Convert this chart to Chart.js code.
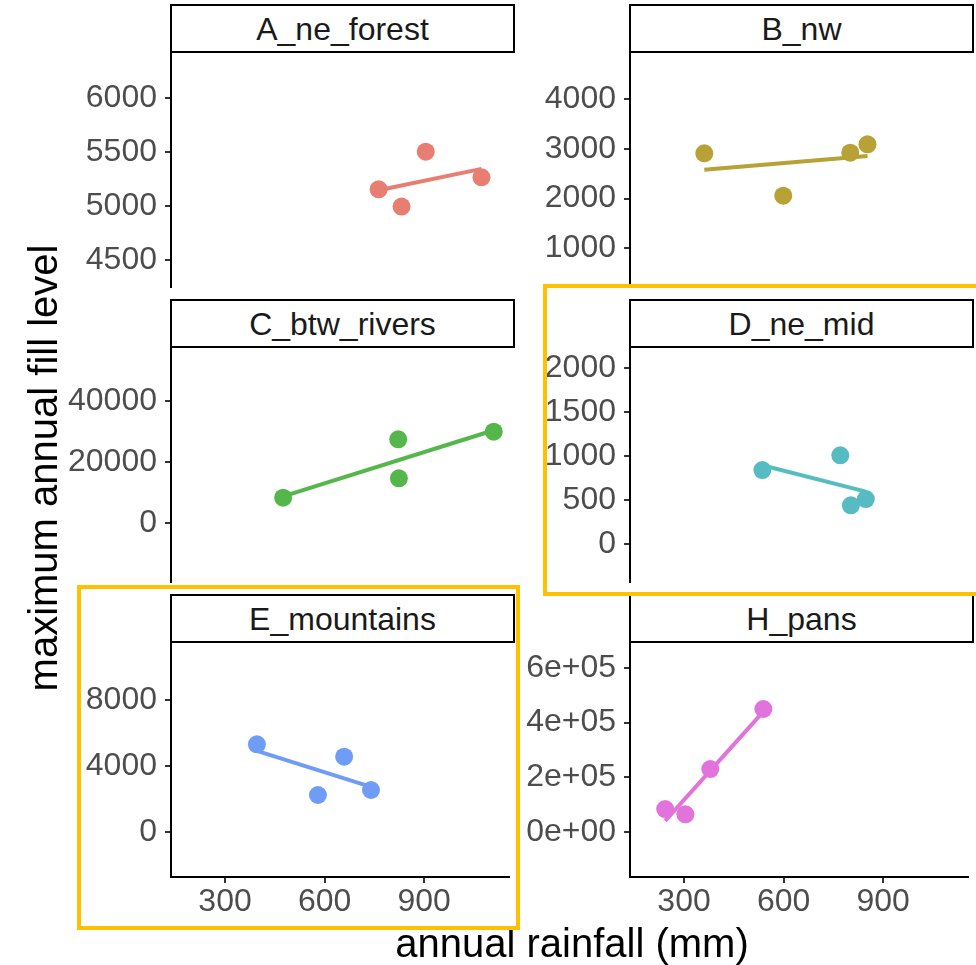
<!DOCTYPE html>
<html>
<head>
<meta charset="utf-8">
<script src="https://cdn.jsdelivr.net/npm/chart.js@4.4.1/dist/chart.umd.min.js"></script>
<style>
  body { margin: 0; background: #fff; }
  #wrap { position: relative; width: 976px; height: 965px; overflow: hidden; font-family: "Liberation Sans", Arial, sans-serif; }
  #wrap canvas { position: absolute; }
  .strip { position: absolute; box-sizing: border-box; border: 2px solid #000; background: #fff; color: #1a1a1a;
           font-size: 32px; display: flex; align-items: center; justify-content: center; padding-top: 2px; }
  .title { position: absolute; font-size: 40px; line-height: 40px; color: #000; white-space: nowrap; text-align: center; }
  .mark { position: absolute; box-sizing: border-box; border: 4px solid #FFC000; pointer-events: none; z-index: 5; }
</style>
</head>
<body>
<div id="wrap"></div>
<script>
// facets (order as drawn: row by row)
const panelNames = ['A_ne_forest', 'B_nw', 'C_btw_rivers', 'D_ne_mid', 'E_mountains', 'H_pans'];
const panelColors = ['#E87D72', '#B8A135', '#55B74B', '#56BCC2', '#6F9DF6', '#E273DC'];

// annual rainfall (mm) and maximum annual fill level, per facet
const rainA = [763, 832, 905, 1073];
const fillA = [5153, 4993, 5501, 5264];
const rainB = [361, 599, 801, 853];
const fillB = [2909, 2057, 2921, 3090];
const rainC = [475, 822, 824, 1110];
const fillC = [8218, 27414, 14594, 29912];
const rainD = [536, 771, 803, 848];
const fillD = [844, 1011, 443, 515];
const rainE = [396, 580, 659, 740];
const fillE = [5309, 2229, 4556, 2533];
const rainH = [243, 304, 379, 539];
const fillH = [84900, 65600, 230700, 449400];

// ticks
const xTicks = [300, 600, 900];
const yTicksA = [4500, 5000, 5500, 6000];
const yTicksB = [1000, 2000, 3000, 4000];
const yTicksC = [0, 20000, 40000];
const yTicksD = [0, 500, 1000, 1500, 2000];
const yTicksE = [0, 4000, 8000];
const yTicksH = [0, 200000, 400000, 600000];
const yLabelsH = ['0e+00', '2e+05', '4e+05', '6e+05'];

const xRange = [137, 1156];

const panels = [
  { x: rainA, y: fillA, ticks: yTicksA, range: [4250, 6413] },
  { x: rainB, y: fillB, ticks: yTicksB, range: [222, 4924] },
  { x: rainC, y: fillC, ticks: yTicksC, range: [-19492, 57420] },
  { x: rainD, y: fillD, ticks: yTicksD, range: [-428, 2231] },
  { x: rainE, y: fillE, ticks: yTicksE, range: [-2751, 11462] },
  { x: rainH, y: fillH, ticks: yTicksH, range: [-162900, 690000], labels: yLabelsH }
];

Chart.defaults.font.family = '"Liberation Sans", Arial, sans-serif';

const wrap = document.getElementById('wrap');
const cols = [
  { canvasLeft: 0, axisLeft: 171, right: 514 },
  { canvasLeft: 520, axisLeft: 630, right: 973 }
];
const panelH = 234;
const rowStep = 295;
const firstTop = 53;
const padTop = 30;

// straight lm fit, like geom_smooth(method = "lm")
const lmFit = (xs, ys) => {
  const n = xs.length;
  const mx = xs.reduce((a, b) => a + b, 0) / n;
  const my = ys.reduce((a, b) => a + b, 0) / n;
  let sxy = 0, sxx = 0;
  xs.forEach((x, i) => {
    sxy += (x - mx) * (ys[i] - my);
    sxx += (x - mx) * (x - mx);
  });
  const b = sxy / sxx;
  const x0 = Math.min(...xs), x1 = Math.max(...xs);
  return [{ x: x0, y: my + b * (x0 - mx) }, { x: x1, y: my + b * (x1 - mx) }];
};

panels.forEach((p, i) => {
  const col = cols[i % 2];
  const row = Math.floor(i / 2);
  const bottomRow = row === 2;
  const top = firstTop + row * rowStep;
  const xAxisH = bottomRow ? 50 : 0;
  const padBottom = bottomRow ? 10 : 30;
  const width = col.right - col.canvasLeft + 4;
  const height = padTop + panelH + xAxisH + padBottom;

  // strip
  const strip = document.createElement('div');
  strip.className = 'strip';
  strip.style.left = (col.axisLeft - 1) + 'px';
  strip.style.top = (top - 49) + 'px';
  strip.style.width = (col.right - col.axisLeft + 2) + 'px';
  strip.style.height = '49px';
  strip.textContent = panelNames[i];
  wrap.appendChild(strip);

  const cv = document.createElement('canvas');
  cv.width = width;
  cv.height = height;
  cv.style.left = col.canvasLeft + 'px';
  cv.style.top = (top - padTop) + 'px';
  wrap.appendChild(cv);

  const pts = p.x.map((x, k) => ({ x: x, y: p.y[k] }));

  new Chart(cv, {
    type: 'scatter',
    data: {
      datasets: [
        {
          data: pts,
          backgroundColor: panelColors[i],
          borderWidth: 0,
          pointRadius: 9,
          pointHoverRadius: 9
        },
        {
          data: lmFit(p.x, p.y),
          showLine: true,
          borderColor: panelColors[i],
          borderWidth: 4,
          borderCapStyle: 'butt',
          pointRadius: 0
        }
      ]
    },
    options: {
      responsive: false,
      animation: false,
      devicePixelRatio: 1,
      layout: { padding: { top: padTop, left: 0, right: 4, bottom: padBottom } },
      plugins: { legend: { display: false }, tooltip: { enabled: false } },
      scales: {
        x: {
          type: 'linear',
          min: xRange[0],
          max: xRange[1],
          display: bottomRow,
          afterBuildTicks: (s) => { s.ticks = xTicks.map(v => ({ value: v })); },
          afterFit: (s) => { s.height = xAxisH; s.paddingLeft = 0; s.paddingRight = 0; },
          grid: { drawOnChartArea: false, tickLength: 6, color: '#333', lineWidth: 2 },
          border: { display: true, color: '#000', width: 2 },
          ticks: { font: { size: 32 }, color: '#4d4d4d', padding: 0, maxRotation: 0, autoSkip: false }
        },
        y: {
          type: 'linear',
          min: p.range[0],
          max: p.range[1],
          afterBuildTicks: (s) => { s.ticks = p.ticks.map(v => ({ value: v })); },
          afterFit: (s) => { s.width = col.axisLeft - col.canvasLeft; s.paddingTop = 0; s.paddingBottom = 0; },
          grid: { drawOnChartArea: false, tickLength: 6, color: '#333', lineWidth: 2 },
          border: { display: true, color: '#000', width: 2 },
          ticks: {
            font: { size: 32 },
            color: '#4d4d4d',
            padding: 8,
            autoSkip: false,
            callback: (v) => p.labels ? p.labels[p.ticks.indexOf(v)] : String(v)
          }
        }
      }
    }
  });
});

// axis titles
const yTitle = document.createElement('div');
yTitle.className = 'title';
yTitle.textContent = 'maximum annual fill level';
yTitle.style.width = '600px';
yTitle.style.left = (43 - 300) + 'px';
yTitle.style.top = (468 - 20) + 'px';
yTitle.style.transform = 'rotate(-90deg)';
wrap.appendChild(yTitle);

const xTitle = document.createElement('div');
xTitle.className = 'title';
xTitle.textContent = 'annual rainfall (mm)';
xTitle.style.width = '600px';
xTitle.style.left = (572 - 300) + 'px';
xTitle.style.top = '923px';
wrap.appendChild(xTitle);

// highlight frames
const frames = [
  { left: 543, top: 284, width: 445, height: 312 },
  { left: 77, top: 585, width: 443, height: 345 }
];
frames.forEach((f) => {
  const d = document.createElement('div');
  d.className = 'mark';
  d.style.left = f.left + 'px';
  d.style.top = f.top + 'px';
  d.style.width = f.width + 'px';
  d.style.height = f.height + 'px';
  wrap.appendChild(d);
});
</script>
</body>
</html>
